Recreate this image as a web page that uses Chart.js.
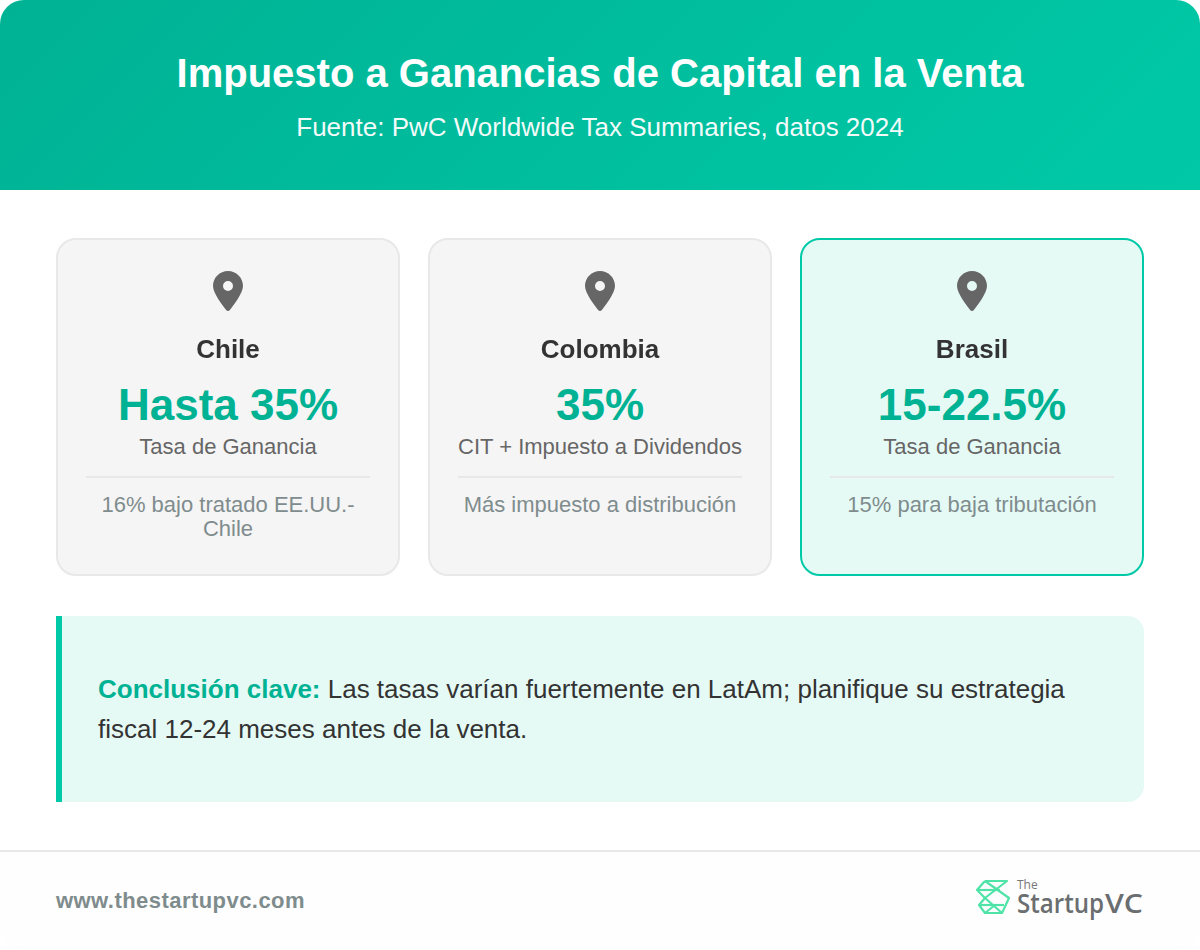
<!DOCTYPE html>
<html lang="es">
<head>
<meta charset="utf-8">
<title>Impuesto a Ganancias de Capital en la Venta</title>
<script src="https://cdn.jsdelivr.net/npm/chart.js@4/dist/chart.umd.min.js"></script>
<style>
* { box-sizing: border-box; margin: 0; padding: 0; }
html, body { width: 1200px; height: 950px; background: #fff; overflow: hidden; }
body { font-family: "Liberation Sans", Arial, sans-serif; }
.page { position: relative; width: 1200px; height: 950px; border-radius: 24px; overflow: hidden; background: #fff; }
.header { height: 190px; background: linear-gradient(135deg, #00b294, #00c9a7); color: #fff; text-align: center; }
.header h1 { position: absolute; left: 0; right: 0; top: 49px; font-size: 40px; line-height: 48px; font-weight: 700; }
.header p { position: absolute; left: 0; right: 0; top: 112px; font-size: 26px; line-height: 30px; opacity: .95; }
.card { position: absolute; top: 238px; width: 344px; height: 338px; border: 2px solid #e8e8e8; border-radius: 20px; background: #f5f5f5; text-align: center; }
.card.destacada { border-color: #00c9a7; background: #e6faf5; }
.tasa { position: absolute; left: 0; right: 0; top: 140px; font-size: 44px; line-height: 50px; font-weight: 700; color: #00b294; }
.etiqueta { position: absolute; left: 0; right: 0; top: 194px; font-size: 22px; line-height: 26px; color: #666; }
.linea { position: absolute; left: 28px; right: 28px; top: 236px; height: 2px; background: #e8e8e8; }
.nota { position: absolute; left: 28px; right: 28px; top: 253px; font-size: 22px; line-height: 24px; color: #7f8c8d; }
.conclusion { position: absolute; left: 56px; top: 616px; width: 1088px; height: 186px; border-left: 6px solid #00c9a7; border-radius: 0 16px 16px 0; background: #e6faf5; padding: 53px 36px 0; font-size: 26px; line-height: 40px; color: #333; }
.conclusion b { color: #00b294; }
.footer { position: absolute; left: 0; top: 850px; width: 1200px; height: 100px; border-top: 2px solid #e8e8e8; background: #fefefe; }
.web { position: absolute; left: 56px; top: 36px; font-size: 22px; line-height: 26px; font-weight: 700; letter-spacing: .45px; color: #7f8c8d; }
.logo { position: absolute; left: 970px; top: 24px; }
#grafico { position: absolute; left: 0; top: 238px; pointer-events: none; }
</style>
</head>
<body>
<div class="page">
  <div class="header">
    <h1>Impuesto a Ganancias de Capital en la Venta</h1>
    <p>Fuente: PwC Worldwide Tax Summaries, datos 2024</p>
  </div>
  <div id="tarjetas"></div>
  <canvas id="grafico" width="1200" height="338"></canvas>
  <div class="conclusion"><b>Conclusión clave:</b> Las tasas varían fuertemente en LatAm; planifique su estrategia fiscal 12-24 meses antes de la venta.</div>
  <div class="footer">
    <div class="web">www.thestartupvc.com</div>
    <svg class="logo" width="180" height="50" viewBox="0 0 180 50">
      <g fill="none" stroke="#4fe3a8" stroke-width="2.2" stroke-linejoin="round">
        <path d="M15 5H37L15 22L9 29L15 37H32L39 22L15 5"/>
        <path d="M15 5L7 14L15 22"/>
        <path d="M7 14H30"/>
        <path d="M9 29H34"/>
        <path d="M15 22L32 37"/>
        <path d="M25 29L15 37"/>
      </g>
      <text x="47" y="13" font-family="Open Sans" font-size="12" fill="#777">The</text>
      <text x="47" y="37" font-family="Open Sans" font-size="27" font-weight="600" fill="#6a6e70" textLength="87" lengthAdjust="spacingAndGlyphs">Startup</text>
      <text x="135" y="37" font-family="Open Sans" font-size="27" font-weight="600" fill="#6a6e70" textLength="38" lengthAdjust="spacingAndGlyphs">VC</text>
    </svg>
  </div>
</div>
<script>
// Datos de las tarjetas
const paises = ['Chile', 'Colombia', 'Brasil'];
const tasas = ['Hasta 35%', '35%', '15-22.5%'];
const etiquetas = ['Tasa de Ganancia', 'CIT + Impuesto a Dividendos', 'Tasa de Ganancia'];
const notas = ['16% bajo tratado EE.UU.-Chile', 'Más impuesto a distribución', '15% para baja tributación'];
const filaPin = [1, 1, 1];

// Tarjetas con su texto
const tarjetas = document.getElementById('tarjetas');
paises.forEach((pais, i) => {
    const card = document.createElement('div');
    card.className = 'card' + (i === 2 ? ' destacada' : '');
    card.style.left = (56 + i * 372) + 'px';
    card.innerHTML = `
        <div class="tasa">${tasas[i]}</div>
        <div class="etiqueta">${etiquetas[i]}</div>
        <div class="linea"></div>
        <div class="nota">${notas[i]}</div>`;
    tarjetas.appendChild(card);
});

// Icono del marcador (30x40)
function crearPin() {
    const c = document.createElement('canvas');
    const escala = 40 / 512;
    c.width = 30;
    c.height = 40;
    const ctx = c.getContext('2d');
    ctx.scale(escala, escala);
    ctx.fillStyle = '#666666';
    ctx.fill(new Path2D('M215.7 499.2C267 435 384 279.4 384 192C384 86 298 0 192 0S0 86 0 192c0 87.4 117 243 168.3 307.2c12.3 15.3 35.1 15.3 47.4 0zM192 128a64 64 0 1 1 0 128 64 64 0 1 1 0-128z'), 'evenodd');
    return c;
}

// Pines y nombres de país sobre el eje de categorías
new Chart(document.getElementById('grafico'), {
    type: 'line',
    data: {
        labels: paises,
        datasets: [{
            data: filaPin,
            showLine: false,
            pointStyle: crearPin(),
            pointRadius: 20
        }]
    },
    options: {
        responsive: false,
        animation: false,
        devicePixelRatio: 1,
        layout: { padding: { left: 42, right: 42, top: 9, bottom: 0 } },
        plugins: { legend: { display: false }, tooltip: { enabled: false } },
        scales: {
            x: {
                position: 'bottom',
                offset: true,
                grid: { display: false },
                border: { display: false },
                ticks: {
                    color: '#333333',
                    padding: 0,
                    maxRotation: 0,
                    font: { family: '"Liberation Sans"', size: 26, weight: 'bold' }
                },
                afterFit: (eje) => { eje.height = 249; }
            },
            y: { display: false, min: 0.4706, max: 1.4706 }
        }
    }
});
</script>
</body>
</html>
